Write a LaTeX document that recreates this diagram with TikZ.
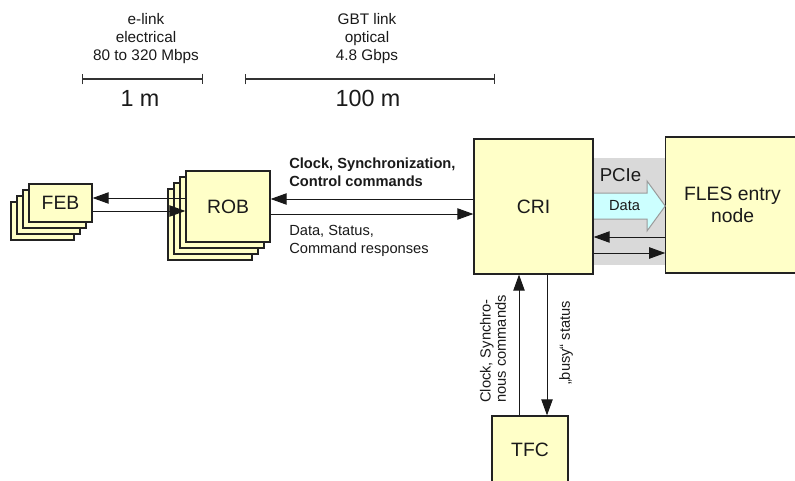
\documentclass[tikz,border=0pt]{standalone}
\usepackage{fontspec}
\setmainfont{Liberation Sans}
\usetikzlibrary{arrows.meta,calc}
\definecolor{boxfill}{HTML}{FFFFC8}
\definecolor{boxline}{HTML}{222222}
\definecolor{band}{HTML}{D9D9D9}
\definecolor{datafill}{HTML}{CCFFFF}
\definecolor{dataline}{HTML}{9A9A9A}
\definecolor{txt}{HTML}{1A1A1A}
\tikzset{
  box/.style={draw=boxline, fill=boxfill, line width=0.9pt, inner sep=0pt, font=\fontsize{14.5}{16}\selectfont, text=txt},
  lbl/.style={inner sep=0pt, font=\fontsize{11}{13.5}\selectfont, text=txt},
  toplbl/.style={inner sep=0pt, align=center, font=\fontsize{11.5}{13.5}\selectfont, text=txt},
  big/.style={inner sep=0pt, font=\fontsize{17.5}{20}\selectfont, text=txt},
  conn/.style={draw=black!90, line width=0.75pt, -{Triangle[length=12pt,width=8.5pt]}},
  bar/.style={draw=black!80, line width=0.9pt, {Bar[width=8pt]}-{Bar[width=8pt]}},
}
\begin{document}
\begin{tikzpicture}[x=0.75pt,y=-0.75pt]
\clip (0,0) rectangle (795,481);
\fill[white] (0,0) rectangle (795,481);

% scale labels
\node[toplbl] (elink) at (146,39) {e-link\\electrical\\80 to 320 Mbps};
\node[toplbl] (gbt) at (367,39) {GBT link\\optical\\4.8 Gbps};
\coordinate (b1a) at (82,79);
\coordinate (b1b) at (203,79);
\coordinate (b2a) at (245,79);
\coordinate (b2b) at (495,79);
\draw[bar] (b1a) -- (b1b);
\draw[bar] (b2a) -- (b2b);
\node[big] (onem) at (140,98.5) {1 m};
\node[big] (hundm) at (368,98.5) {100 m};

% gray band between CRI and FLES
\fill[band] (593,158) rectangle (666,265);

% FEB stack
\foreach \k in {3,2,1}{
  \node[box, minimum width=47.25pt, minimum height=28.5pt] (feb\k) at ({60.5-6*\k},{203+6*\k}) {};
}
\node[box, minimum width=47.25pt, minimum height=28.5pt] (feb) at (60.5,203) {FEB};

% ROB stack
\foreach \k in {3,2,1}{
  \node[box, minimum width=63pt, minimum height=53.25pt] (rob\k) at ({228-6*\k},{206.5+6*\k}) {};
}
\node[box, minimum width=63pt, minimum height=53.25pt] (rob) at (228,206.5) {ROB};

% CRI, FLES, TFC
\node[box, minimum width=89.25pt, minimum height=101.25pt] (cri) at (533.5,206.5) {CRI};
\node[box, minimum width=100pt, minimum height=102pt, align=center] (fles) at (732.5,205) {FLES entry\\node};
\node[box, minimum width=57pt, minimum height=51pt] (tfc) at (530,450) {TFC};

% Data arrow (PCIe)
\draw[draw=dataline, fill=datafill, line width=0.75pt]
  (cri.east |- 0,193) -- (647,193) -- (647,181) -- (fles.west |- 0,206) -- (647,231) -- (647,219) -- (cri.east |- 0,219);
\draw[boxline, line width=0.9pt] (cri.north east) -- (cri.south east);
\node[lbl] (datalbl) at (624.5,206) {Data};
\node[inner sep=0pt, font=\fontsize{14}{16}\selectfont, text=txt] (pcie) at (620.5,175.5) {PCIe};

% FEB <-> ROB
\draw[conn] (rob.west |- 0,198) -- (feb.east |- 0,198);
\draw[conn] (feb.east |- 0,211) -- (rob.west |- 0,211);

% ROB <-> CRI
\draw[conn] (cri.west |- 0,199) -- (rob.east |- 0,199);
\draw[conn] (rob.east |- 0,214) -- (cri.west |- 0,214);
\node[lbl, anchor=west, align=left, font=\bfseries\fontsize{11}{13.5}\selectfont] (clk) at (289,172.5) {Clock, Synchronization,\\Control commands};
\node[lbl, anchor=west, align=left] (dat) at (289,241) {Data, Status,\\Command responses};

% CRI <-> FLES
\draw[conn] (fles.west |- 0,237) -- (cri.east |- 0,237);
\draw[conn] (cri.east |- 0,253) -- (fles.west |- 0,253);

% CRI <-> TFC
\draw[conn] (tfc.north -| 519,0) -- (cri.south -| 519,0);
\draw[conn] (cri.south -| 547,0) -- (tfc.north -| 547,0);
\node[lbl, rotate=90, align=left, font=\fontsize{11}{11.5}\selectfont] (clk2) at (493,349) {Clock, Synchro-\\nous commands};
\node[lbl, rotate=90] (busy) at (566,343) {„busy“ status};
\end{tikzpicture}
\end{document}
